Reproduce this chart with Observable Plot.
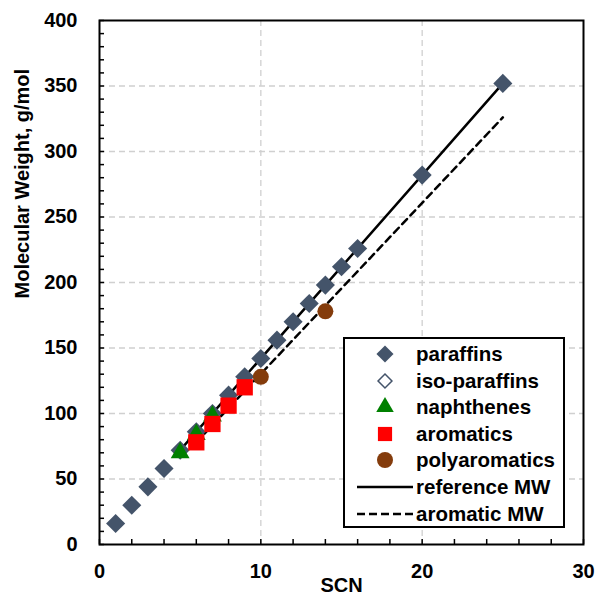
<!DOCTYPE html>
<html>
<head>
<meta charset="utf-8">
<script src="https://cdn.jsdelivr.net/npm/d3@7"></script>
<script src="https://cdn.jsdelivr.net/npm/@observablehq/plot@0.6"></script>
<style>
  body { margin: 0; background: #fff; }
  #wrap { position: relative; width: 598px; height: 600px; font-family: "Liberation Sans", Arial, sans-serif; }
  #legend { position: absolute; left: 343px; top: 337px; width: 218px; height: 187px; border: 2px solid #000; background: #fff; box-sizing: content-box; }
  .row { position: absolute; left: 0; height: 26px; display: flex; align-items: center; }
  .row span { font-weight: bold; font-size: 20.5px; color: #000; position: absolute; left: 71px; white-space: nowrap; line-height: 26px; top: 0; }
</style>
</head>
<body>
<div id="wrap"></div>
<script>
// ---- data ----
const paraffinSCN = [1,2,3,4,5,6,7,8,9,10,11,12,13,14,15,16,20,25];
const paraffinMW  = [16,30,44,58,72,86,100,114,128,142,156,170,184,198,212,226,282,352];
const naphtheneSCN = [5,6,7];
const naphtheneMW  = [70,84,98];
const aromaticSCN = [6,7,8,9];
const aromaticMW  = [78,92,106,120];
const polyaromaticSCN = [10,14];
const polyaromaticMW  = [128,178];
const refLineSCN = [5,25];
const refLineMW  = [72,352];
const aroLineSCN = [6,25];
const aroLineMW  = [78,326];
const xTicks = [0,10,20,30];
const yTicks = [0,50,100,150,200,250,300,350,400];
const legendLabels = ["paraffins","iso-paraffins","naphthenes","aromatics","polyaromatics","reference MW","aromatic MW"];
const xTitle = "SCN";
const yTitle = "Molecular Weight, g/mol";

const colors = {paraffin:"#44546a", naphthene:"#008000", aromatic:"#ff0000", poly:"#843c0c"};
const zip = (xs, ys) => xs.map((x,i) => ({x, y: ys[i]}));

const gridStyle = {stroke:"#d0d0d0", strokeOpacity:1, strokeWidth:1.3, strokeDasharray:"6,4"};

const chart = Plot.plot({
  width: 598, height: 600,
  marginLeft: 99, marginRight: 15, marginTop: 20, marginBottom: 56,
  style: {fontFamily: '"Liberation Sans", Arial, sans-serif', fontWeight: "bold", fontSize: "20px", background: "#fff", color: "#000"},
  x: {domain: [0,30]},
  y: {domain: [0,400]},
  marks: [
    Plot.gridX([10,20], gridStyle),
    Plot.gridY([50,100,150,200,250,300,350], gridStyle),
    Plot.axisX({ticks: d3.range(0,31,2), tickSize: -5, text: null, label: null, strokeWidth: 1.5}),
    Plot.axisY({ticks: d3.range(0,401,10), tickSize: -5, text: null, label: null, strokeWidth: 1.5}),
    Plot.axisX({ticks: xTicks, tickSize: 0, tickPadding: 19, fontSize: 20, label: xTitle, labelAnchor: "center", labelArrow: "none", labelOffset: 47}),
    Plot.axisY({ticks: yTicks, tickSize: 0, tickPadding: 22, fontSize: 20, label: null}),
    Plot.text([yTitle], {frameAnchor: "left", rotate: -90, dx: -77, dy: 16, fontSize: 20, fontWeight: "bold", fill: "#000"}),
    Plot.line(zip(refLineSCN, refLineMW), {x:"x", y:"y", stroke:"#000", strokeWidth: 2.5}),
    Plot.line(zip(aroLineSCN, aroLineMW), {x:"x", y:"y", stroke:"#000", strokeWidth: 2.5, strokeDasharray: "7,5"}),
    Plot.dot(zip(paraffinSCN, paraffinMW), {x:"x", y:"y", symbol:"diamond2", r: 8.6, fill: colors.paraffin, stroke: "none"}),
    Plot.dot(zip(naphtheneSCN, naphtheneMW), {x:"x", y:"y", symbol:"triangle", r: 7, fill: colors.naphthene, stroke: "none"}),
    Plot.dot(zip(aromaticSCN, aromaticMW), {x:"x", y:"y", symbol:"square", r: 9.2, fill: colors.aromatic, stroke: "none"}),
    Plot.dot(zip(polyaromaticSCN, polyaromaticMW), {x:"x", y:"y", symbol:"circle", r: 8, fill: colors.poly, stroke: "none"}),
    Plot.frame({stroke:"#000", strokeWidth: 2})
  ]
});

const wrap = document.getElementById("wrap");
wrap.appendChild(chart);

// ---- legend ----
const legend = d3.select(wrap).append("div").attr("id","legend");
const markers = [
  {type:"dot", symbol:d3.symbolDiamond2, size: Math.PI*8.6*8.6*0.8, fill:colors.paraffin, stroke:"none"},
  {type:"dot", symbol:d3.symbolDiamond2, size: Math.PI*7*7*0.8, fill:"#fff", stroke:colors.paraffin},
  {type:"dot", symbol:d3.symbolTriangle, size: Math.PI*6.5*6.5, fill:colors.naphthene, stroke:"none"},
  {type:"dot", symbol:d3.symbolSquare, size: Math.PI*8*8, fill:colors.aromatic, stroke:"none"},
  {type:"dot", symbol:d3.symbolCircle, size: Math.PI*8*8, fill:colors.poly, stroke:"none"},
  {type:"line", dash:null},
  {type:"line", dash:"8,4"}
];
legendLabels.forEach((lab, i) => {
  const row = legend.append("div").attr("class","row")
    .style("top", (i*26.6 + 2) + "px").style("width","100%");
  const svg = row.append("svg").attr("width", 70).attr("height", 26).style("position","absolute").style("left","0px");
  const m = markers[i];
  if (m.type === "dot") {
    svg.append("path").attr("d", d3.symbol(m.symbol, m.size)())
      .attr("transform", "translate(40,13)")
      .attr("fill", m.fill).attr("stroke", m.stroke).attr("stroke-width", 1.5);
  } else {
    svg.append("line").attr("x1", 12).attr("x2", 68).attr("y1", 13).attr("y2", 13)
      .attr("stroke", "#000").attr("stroke-width", 2.5).attr("stroke-dasharray", m.dash);
  }
  row.append("span").text(lab);
});
</script>
</body>
</html>
